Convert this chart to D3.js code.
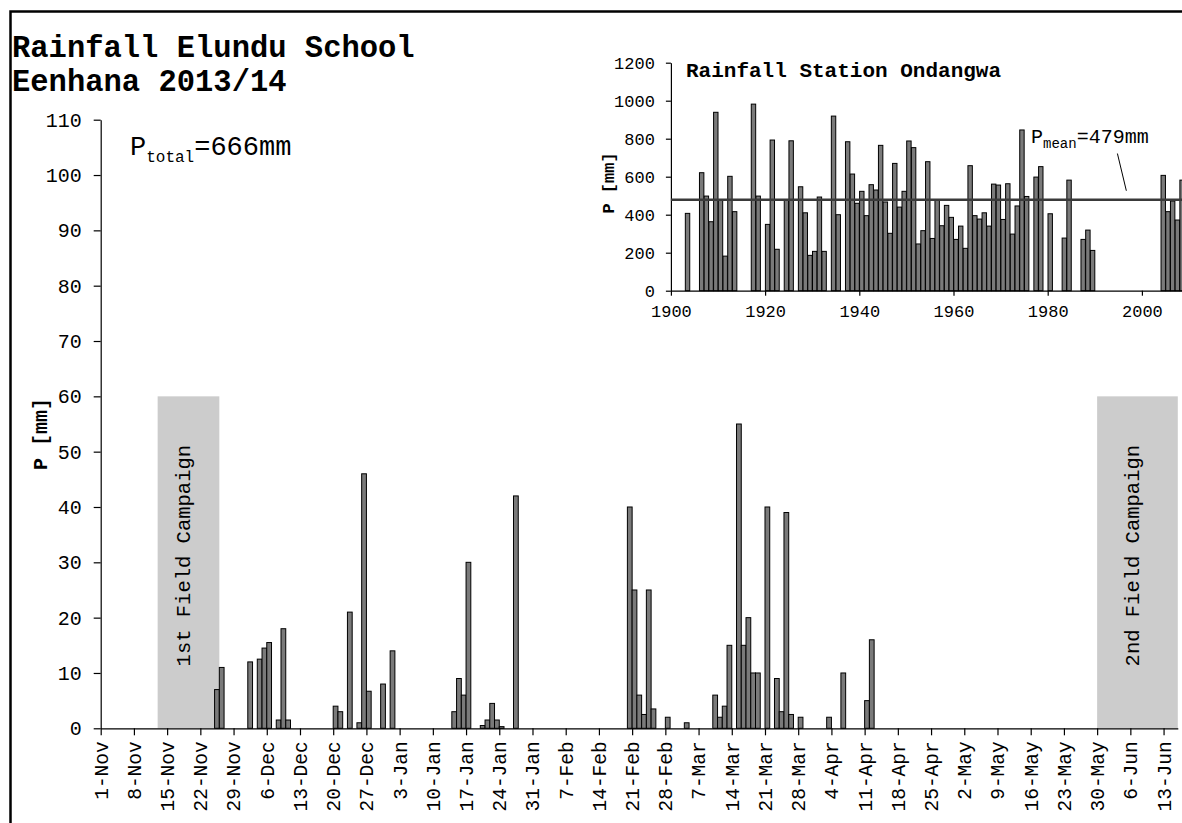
<!DOCTYPE html>
<html>
<head>
<meta charset="utf-8">
<script src="https://cdn.jsdelivr.net/npm/d3@7"></script>
<style>
  html, body { margin: 0; padding: 0; background: #fff; }
  svg { display: block; }
  text { font-family: "Liberation Mono", "Courier New", monospace; fill: #000; }
</style>
</head>
<body>
<svg id="chart" width="1182" height="823"></svg>
<script>
// Daily rainfall at Elundu School, Eenhana, season 2013/14 (mm)
const rainDates = [
  "2013-11-25","2013-11-26",
  "2013-12-02","2013-12-04","2013-12-05","2013-12-06","2013-12-08","2013-12-09","2013-12-10",
  "2013-12-20","2013-12-21","2013-12-23","2013-12-25","2013-12-26","2013-12-27","2013-12-30",
  "2014-01-01","2014-01-14","2014-01-15","2014-01-16","2014-01-17","2014-01-20","2014-01-21",
  "2014-01-22","2014-01-23","2014-01-24","2014-01-27",
  "2014-02-20","2014-02-21","2014-02-22","2014-02-23","2014-02-24","2014-02-25","2014-02-28",
  "2014-03-04","2014-03-10","2014-03-11","2014-03-12","2014-03-13","2014-03-15","2014-03-16",
  "2014-03-17","2014-03-18","2014-03-19","2014-03-21","2014-03-23","2014-03-24","2014-03-25",
  "2014-03-26","2014-03-28",
  "2014-04-03","2014-04-06","2014-04-11","2014-04-12"
];
const rainValues = [
  7, 11,
  12, 12.5, 14.5, 15.5, 1.5, 18, 1.5,
  4, 3, 21, 1, 46, 6.7, 8,
  14, 3, 9, 6, 30, 0.5, 1.5,
  4.5, 1.5, 0.3, 42,
  40, 25, 6, 2.5, 25, 3.5, 2,
  1, 6, 2, 4, 15, 55, 15,
  20, 10, 10, 40, 9, 3, 39,
  2.5, 2,
  2, 10, 5, 16
];

// Axis range and labels
const seasonStart = "2013-11-01";
const seasonEnd = "2014-06-16";
const dateTickLabels = [
  "1-Nov","8-Nov","15-Nov","22-Nov","29-Nov","6-Dec","13-Dec","20-Dec","27-Dec",
  "3-Jan","10-Jan","17-Jan","24-Jan","31-Jan","7-Feb","14-Feb","21-Feb","28-Feb",
  "7-Mar","14-Mar","21-Mar","28-Mar","4-Apr","11-Apr","18-Apr","25-Apr",
  "2-May","9-May","16-May","23-May","30-May","6-Jun","13-Jun"
];
const rainTicks = [0, 10, 20, 30, 40, 50, 60, 70, 80, 90, 100, 110];

// Field campaigns (first and last day)
const campaignNames = ["1st Field Campaign", "2nd Field Campaign"];
const campaignStarts = ["2013-11-13", "2014-05-30"];
const campaignEnds = ["2013-11-25", "2014-06-15"];
const campaignHeight = 60;
const seasonTotal = 666;

// Annual rainfall at Ondangwa station (mm)
const stationYears = [
  1903, 1906, 1907, 1908, 1909, 1910, 1911, 1912, 1913,
  1917, 1918, 1920, 1921, 1922, 1924, 1925,
  1927, 1928, 1929, 1930, 1931, 1932, 1934, 1935,
  1937, 1938, 1939, 1940, 1941, 1942, 1943, 1944, 1945, 1946, 1947, 1948, 1949,
  1950, 1951, 1952, 1953, 1954, 1955, 1956, 1957, 1958, 1959,
  1960, 1961, 1962, 1963, 1964, 1965, 1966, 1967, 1968, 1969,
  1970, 1971, 1972, 1973, 1974, 1975, 1977, 1978,
  1980, 1983, 1984, 1987, 1988, 1989,
  2004, 2005, 2006, 2007, 2008
];
const stationValues = [
  407, 621, 498, 363, 939, 477, 182, 602, 416,
  982, 498, 349, 793, 218, 477, 789,
  547, 410, 186, 207, 493, 207, 919, 400,
  784, 614, 460, 523, 395, 558, 530, 765, 467, 302, 670, 440, 523,
  788, 753, 246, 316, 679, 275, 477, 342, 449, 386,
  270, 340, 223, 658, 395, 377, 410, 340, 561, 556,
  375, 563, 298, 446, 846, 496, 598, 653,
  405, 277, 582, 270, 319, 212,
  607, 416, 472, 372, 582
];
const stationMean = 479;
const stationTicksY = [0, 200, 400, 600, 800, 1000, 1200];
const stationTicksX = [1900, 1920, 1940, 1960, 1980, 2000];

// ---------------------------------------------------------------
const svg = d3.select("#chart");
const parse = d3.utcParse("%Y-%m-%d");
const dayAfter = d => d3.utcDay.offset(d, 1);
const barFill = "#7a7a7a";
const mono = "'Liberation Mono', 'Courier New', monospace";

// Outer frame
svg.append("rect")
  .attr("x", 10.5).attr("y", 11.5)
  .attr("width", 1300).attr("height", 1000)
  .attr("fill", "none").attr("stroke", "#000").attr("stroke-width", 2.5);

// Title
const title = svg.append("text")
  .attr("x", 12).attr("y", 57)
  .style("font-size", "30.5px").style("font-weight", "bold");
title.append("tspan").attr("x", 12).text("Rainfall Elundu School");
title.append("tspan").attr("x", 12).attr("y", 91).text("Eenhana 2013/14");

// ---------------- main chart ----------------
const xEnd = 1177.8;
const x = d3.scaleUtc()
  .domain([parse(seasonStart), parse(seasonEnd)])
  .range([100.7, xEnd]);
const y = d3.scaleLinear().domain([0, 110]).range([728.3, 119.7]);

// Field campaign shading
const campaigns = campaignNames.map((name, i) => ({
  name, start: parse(campaignStarts[i]), end: dayAfter(parse(campaignEnds[i]))
}));
svg.append("g").selectAll("rect").data(campaigns).join("rect")
  .attr("x", d => x(d.start))
  .attr("width", d => Math.min(x(d.end), xEnd) - x(d.start))
  .attr("y", y(campaignHeight))
  .attr("height", y(0) - y(campaignHeight))
  .attr("fill", "#cccccc");
svg.append("g").selectAll("text").data(campaigns).join("text")
  .attr("transform", d => {
    const cx = (x(d.start) + Math.min(x(d.end), xEnd)) / 2 + 2;
    return `translate(${cx},${y(31.2)}) rotate(-90)`;
  })
  .attr("text-anchor", "middle")
  .style("font-size", "20.5px")
  .text(d => d.name);

// Daily bars
const rain = rainDates.map((d, i) => ({ date: parse(d), value: rainValues[i] }));
svg.append("g").selectAll("rect").data(rain).join("rect")
  .attr("x", d => x(d.date))
  .attr("width", d => x(dayAfter(d.date)) - x(d.date))
  .attr("y", d => y(d.value))
  .attr("height", d => y(0) - y(d.value))
  .attr("fill", barFill)
  .attr("stroke", "#000").attr("stroke-width", 1);

// Axes
const tickDates = dateTickLabels.map((_, i) => d3.utcDay.offset(parse(seasonStart), i * 7));
const xAxis = d3.axisBottom(x)
  .tickValues(tickDates)
  .tickFormat((d, i) => dateTickLabels[i])
  .tickSize(7).tickSizeOuter(0);
const gx = svg.append("g").attr("transform", `translate(0,${y(0)})`).call(xAxis);
gx.selectAll("text")
  .attr("transform", "rotate(-90)")
  .attr("x", -13).attr("y", 0).attr("dy", "0.33em")
  .style("text-anchor", "end")
  .style("font-size", "19.5px")
  .style("font-family", mono);

const yAxis = d3.axisLeft(y).tickValues(rainTicks).tickSize(7).tickSizeOuter(0).tickPadding(12);
const gy = svg.append("g").attr("transform", `translate(${x.range()[0]},0)`).call(yAxis);
gy.selectAll("text")
  .style("font-size", "20px")
  .style("font-family", mono);
[gx, gy].forEach(g => {
  g.select(".domain").attr("stroke", "#000").attr("stroke-width", 1.2);
  g.selectAll(".tick line").attr("stroke", "#000").attr("stroke-width", 1.2);
});

// y label
svg.append("text")
  .attr("transform", "translate(47,434) rotate(-90)")
  .attr("text-anchor", "middle")
  .style("font-size", "20px").style("font-weight", "bold")
  .text("P [mm]");

// Season total
const tot = svg.append("text").attr("x", 130).attr("y", 155).style("font-size", "27px");
tot.append("tspan").text("P");
tot.append("tspan").attr("dy", 7).style("font-size", "16px").text("total");
tot.append("tspan").attr("dy", -7).text("=" + seasonTotal + "mm");

// ---------------- inset: station record ----------------
const xs = d3.scaleLinear().domain([1900, 2010]).range([670.9, 670.9 + 110 * 4.71]);
const ys = d3.scaleLinear().domain([0, 1200]).range([290.7, 62.7]);

const station = stationYears.map((yr, i) => ({ year: yr, value: stationValues[i] }));
svg.append("g").selectAll("rect").data(station).join("rect")
  .attr("x", d => xs(d.year) + 0.3)
  .attr("width", d => xs(d.year + 1) - xs(d.year) - 0.3)
  .attr("y", d => ys(d.value))
  .attr("height", d => ys(0) - ys(d.value))
  .attr("fill", barFill)
  .attr("stroke", "#000").attr("stroke-width", 1);

const gxs = svg.append("g").attr("transform", `translate(0,${ys(0)})`)
  .call(d3.axisBottom(xs).tickValues(stationTicksX).tickFormat(d3.format("d"))
    .tickSize(5).tickSizeOuter(0).tickPadding(9));
const gys = svg.append("g").attr("transform", `translate(${xs(1900)},0)`)
  .call(d3.axisLeft(ys).tickValues(stationTicksY).tickFormat(d3.format("d"))
    .tickSize(5).tickSizeOuter(0).tickPadding(11));
[gxs, gys].forEach(g => {
  g.selectAll("text").style("font-size", "17px").style("font-family", mono);
  g.select(".domain").attr("stroke", "#000").attr("stroke-width", 1.2);
  g.selectAll(".tick line").attr("stroke", "#000").attr("stroke-width", 1.2);
});

// Mean line
svg.append("line")
  .attr("x1", xs(1900)).attr("x2", xs(2010))
  .attr("y1", ys(stationMean)).attr("y2", ys(stationMean))
  .attr("stroke", "#3a3a3a").attr("stroke-width", 2.4);

// Mean label with leader
svg.append("line")
  .attr("x1", xs(1994.8)).attr("y1", ys(722))
  .attr("x2", xs(1996.7)).attr("y2", ys(526))
  .attr("stroke", "#000").attr("stroke-width", 1);
const meanLbl = svg.append("text").attr("x", 1031).attr("y", 143).style("font-size", "20px");
meanLbl.append("tspan").text("P");
meanLbl.append("tspan").attr("dy", 5).style("font-size", "14px").text("mean");
meanLbl.append("tspan").attr("dy", -5).text("=" + stationMean + "mm");

// Inset title and y label
svg.append("text").attr("x", 686).attr("y", 77)
  .style("font-size", "21px").style("font-weight", "bold")
  .text("Rainfall Station Ondangwa");
svg.append("text")
  .attr("transform", "translate(614,183) rotate(-90)")
  .attr("text-anchor", "middle")
  .style("font-size", "17px").style("font-weight", "bold")
  .text("P [mm]");
</script>
</body>
</html>
